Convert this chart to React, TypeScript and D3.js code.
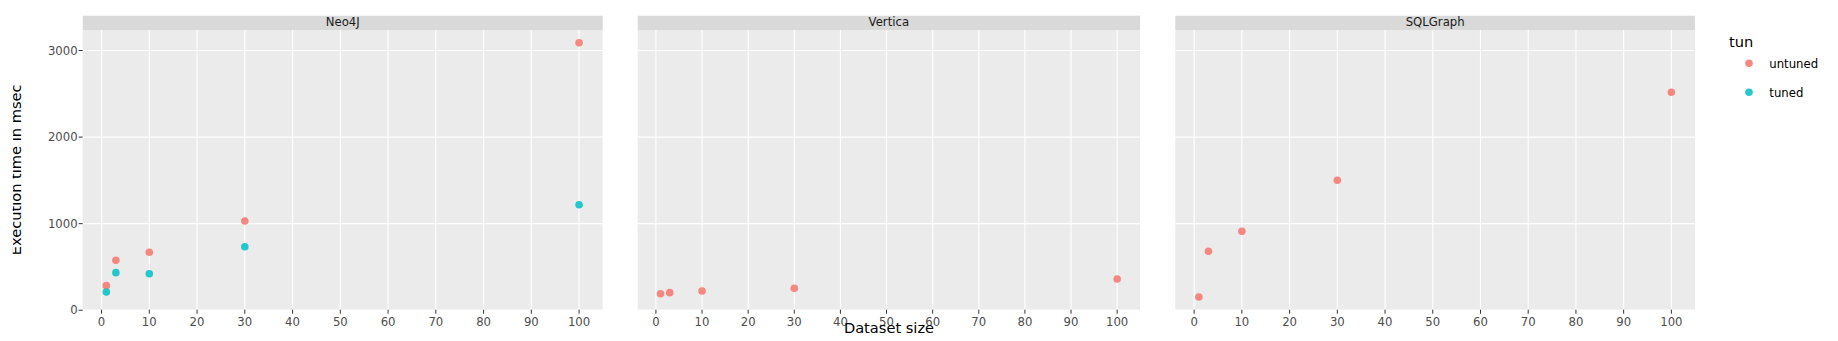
import React from "react";
import * as d3 from "d3";

// ---- data ----
const datasetSizes = [1, 3, 10, 30, 100];
const neo4jUntuned = [284, 577, 669, 1031, 3090];
const neo4jTuned = [211, 434, 422, 734, 1219];
const verticaUntuned = [191, 203, 222, 253, 361];
const sqlgraphUntuned = [153, 681, 912, 1501, 2517];
const panelNames = ["Neo4J", "Vertica", "SQLGraph"];
const xTicks = [0, 10, 20, 30, 40, 50, 60, 70, 80, 90, 100];
const yTicks = [0, 1000, 2000, 3000];
const seriesNames = ["untuned", "tuned"];

const COLORS: Record<string, string> = { untuned: "#F8766D", tuned: "#00BFC4" };
const FONT = "'DejaVu Sans', Verdana, sans-serif";

type Pt = { x: number; y: number; s: string };
const panelData: Pt[][] = [
  [
    ...datasetSizes.map((x, i) => ({ x, y: neo4jUntuned[i], s: "untuned" })),
    ...datasetSizes.map((x, i) => ({ x, y: neo4jTuned[i], s: "tuned" })),
  ],
  datasetSizes.map((x, i) => ({ x, y: verticaUntuned[i], s: "untuned" })),
  datasetSizes.map((x, i) => ({ x, y: sqlgraphUntuned[i], s: "untuned" })),
];

// layout
const panelX: [number, number][] = [
  [82.7, 602.7],
  [637.7, 1140],
  [1175.3, 1695],
];
const stripTop = 15.7;
const plotTop = 30;
const plotBottom = 309.7;

export default function App() {
  const allX = panelData.flat().map((d) => d.x);
  const allY = panelData.flat().map((d) => d.y);
  const [x0, x1] = d3.extent(allX) as [number, number];
  const [y0, y1] = d3.extent(allY) as [number, number];
  const xe = (x1 - x0) * 0.05;
  const ye = (y1 - y0) * 0.05;
  const yScale = d3.scaleLinear().domain([y0 - ye, y1 + ye]).range([plotBottom, plotTop]);

  return (
    <svg
      width={1838}
      height={341}
      style={{ position: "absolute", left: 0, top: 0, display: "block", background: "#fff" }}
      fontFamily={FONT}
    >
      <defs>
        <clipPath id="ytitleclip">
          <rect x={12.7} y={0} width={40} height={341} />
        </clipPath>
      </defs>
      {panelNames.map((name, pi) => {
        const [left, right] = panelX[pi];
        const xScale = d3.scaleLinear().domain([x0 - xe, x1 + xe]).range([left, right]);
        return (
          <g key={name}>
            <rect x={left} y={stripTop} width={right - left} height={plotTop - stripTop} fill="#D9D9D9" />
            <text
              x={(left + right) / 2}
              y={26}
              textAnchor="middle"
              fontSize={11.69}
              fill="#1A1A1A"
            >
              {name}
            </text>
            <rect x={left} y={plotTop} width={right - left} height={plotBottom - plotTop} fill="#EBEBEB" />
            {yTicks.map((t) => (
              <line
                key={"gy" + t}
                x1={left}
                x2={right}
                y1={yScale(t)}
                y2={yScale(t)}
                stroke="#fff"
                strokeWidth={1.1}
              />
            ))}
            {xTicks.map((t) => (
              <line
                key={"gx" + t}
                x1={xScale(t)}
                x2={xScale(t)}
                y1={plotTop}
                y2={plotBottom}
                stroke="#fff"
                strokeWidth={1.1}
              />
            ))}
            {xTicks.map((t) => (
              <g key={"tx" + t}>
                <line
                  x1={xScale(t)}
                  x2={xScale(t)}
                  y1={plotBottom}
                  y2={plotBottom + 4}
                  stroke="#333"
                  strokeWidth={1}
                />
                <text x={xScale(t)} y={326} textAnchor="middle" fontSize={11.69} fill="#4D4D4D">
                  {t}
                </text>
              </g>
            ))}
            {pi === 0 &&
              yTicks.map((t) => (
                <g key={"ty" + t}>
                  <line
                    x1={left - 4}
                    x2={left}
                    y1={yScale(t)}
                    y2={yScale(t)}
                    stroke="#333"
                    strokeWidth={1}
                  />
                  <text
                    x={left - 5}
                    y={yScale(t) + 4.2}
                    textAnchor="end"
                    fontSize={11.69}
                    fill="#4D4D4D"
                  >
                    {t}
                  </text>
                </g>
              ))}
            {panelData[pi].map((d, i) => (
              <circle
                key={i}
                cx={xScale(d.x)}
                cy={yScale(d.y)}
                r={3.8}
                fill={COLORS[d.s]}
                fillOpacity={0.85}
              />
            ))}
          </g>
        );
      })}
      <text x={889} y={333} textAnchor="middle" fontSize={14.61} fill="#000">
        Dataset size
      </text>
      <g clipPath="url(#ytitleclip)">
        <text
          transform={`translate(21,${(plotTop + plotBottom) / 2}) rotate(-90)`}
          textAnchor="middle"
          fontSize={14.61}
          fill="#000"
        >
          Execution time in msec
        </text>
      </g>
      <text x={1729} y={47} fontSize={14.61} fill="#000">
        tun
      </text>
      {seriesNames.map((s, i) => (
        <g key={s}>
          <circle cx={1749} cy={63.3 + i * 29} r={3.8} fill={COLORS[s]} fillOpacity={0.85} />
          <text x={1769.3} y={67.5 + i * 29} fontSize={11.69} fill="#000">
            {s}
          </text>
        </g>
      ))}
    </svg>
  );
}
